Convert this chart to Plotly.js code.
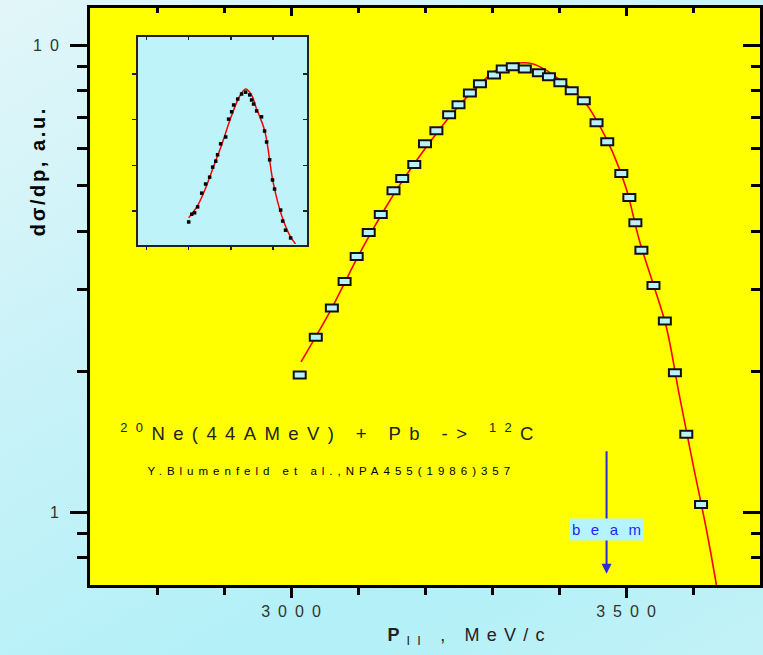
<!DOCTYPE html>
<html>
<head>
<meta charset="utf-8">
<script src="https://cdn.plot.ly/plotly-3.0.1.min.js"></script>
<style>
  html, body { margin: 0; padding: 0; }
  body {
    width: 763px; height: 655px; overflow: hidden;
    background: linear-gradient(150deg, #e2f6f9 0%, #c6f2f8 40%, #b2f0f8 75%, #c2f2f7 100%);
  }
  #chart { width: 763px; height: 655px; }
  g.annotation[data-index="0"] text { letter-spacing: 8.4px; }
  g.annotation[data-index="1"] text { letter-spacing: 5px; }
  g.annotation[data-index="2"] text { letter-spacing: 2.6px; }
  g.annotation[data-index="3"] text { letter-spacing: 7.2px; }
  .subplot.xy .scatterlayer .trace:nth-of-type(2) path.point { d: path("M-6,-3.5H6V3.5H-6Z"); }
</style>
</head>
<body>
<div id="chart"></div>
<script>
// ---- main spectrum: 20Ne(44 AMeV) + Pb -> 12C, dσ/dp (a.u.) vs P|| (MeV/c)
const mainP = [3013, 3037, 3061, 3080, 3098, 3116, 3134, 3153, 3166, 3184, 3200, 3217,
               3236, 3250, 3267, 3282, 3303, 3316, 3331, 3349, 3370, 3385, 3402, 3419,
               3437, 3456, 3472, 3493, 3505, 3514, 3523, 3541, 3558, 3573, 3590, 3612];
const mainY = [1.97, 2.37, 2.74, 3.12, 3.53, 3.97, 4.34, 4.88, 5.18, 5.55, 6.15, 6.56,
               7.09, 7.45, 7.90, 8.26, 8.63, 8.89, 8.98, 8.89, 8.72, 8.55, 8.30, 7.98,
               7.60, 6.82, 6.21, 5.31, 4.72, 4.17, 3.64, 3.06, 2.57, 1.99, 1.47, 1.04];

// ---- fit curve (red)
const fitP = [3015, 3040, 3060, 3080, 3100, 3120, 3140, 3160, 3180, 3200, 3220, 3240,
              3260, 3280, 3300, 3320, 3340, 3360, 3380, 3400, 3420, 3440, 3460, 3480,
              3500, 3520, 3540, 3560, 3580, 3600, 3620, 3635];
const fitY = [2.10, 2.42, 2.72, 3.10, 3.53, 3.98, 4.46, 4.96, 5.47, 6.00, 6.55, 7.12,
              7.67, 8.18, 8.72, 9.00, 9.15, 9.12, 8.85, 8.45, 8.00, 7.50, 6.75, 5.90,
              4.95, 3.82, 3.10, 2.50, 1.77, 1.27, 0.92, 0.70];

// ---- inset (linear scale)
const insetP = [3000, 3018, 3035, 3053, 3077, 3100, 3124, 3142, 3160, 3171, 3189, 3219,
                3236, 3254, 3266, 3290, 3313, 3337, 3361, 3372, 3384, 3402, 3431, 3449,
                3461, 3479, 3496, 3508, 3544, 3556, 3573, 3603];
const insetY = [0.76, 0.93, 0.96, 1.09, 1.39, 1.59, 1.74, 1.96, 2.09, 2.23, 2.47, 2.62,
                3.01, 3.17, 3.32, 3.45, 3.56, 3.60, 3.54, 3.43, 3.34, 3.19, 3.06, 2.75,
                2.51, 2.12, 1.68, 1.48, 1.02, 0.78, 0.58, 0.41];
const insetFitP = [3000, 3050, 3100, 3150, 3200, 3250, 3300, 3337, 3370, 3400, 3450, 3500, 3550, 3600, 3632];
const insetFitY = [0.85, 1.10, 1.50, 2.00, 2.50, 3.05, 3.50, 3.67, 3.55, 3.25, 2.75, 1.62, 0.90, 0.45, 0.28];

// ---- ticks
const xTickVals = [3000, 3500];
const xTickText = ['3\u20020\u20020\u20020', '3\u20025\u20020\u20020'];
const xMinorVals = [2800, 2900, 3100, 3200, 3300, 3400, 3600];
const yTickVals = [1, 10];
const yTickText = ['1', '1\u20020'];
const yMinorVals = [0.8, 0.9, 2, 3, 4, 5, 6, 7, 8, 9];
const insetXTicks = [2750, 3000, 3250, 3500];
const insetYTicks = [1, 2, 3, 4];

const BEAM_P = 3471;

const X_RANGE = [2700, 3700];
const Y_RANGE = [Math.log10(0.7), Math.log10(12)];
const INSET_Y_RANGE = [0.256, 4.807];
const INSET_XDOM = [0.0716, 0.3239];
const INSET_YDOM = [0.5893, 0.9497];

const FONT = 'Liberation Sans, Arial, sans-serif';
const AX = '#000';

const traces = [
  { x: fitP, y: fitY, xaxis: 'x', yaxis: 'y', mode: 'lines', type: 'scatter',
    line: { color: '#ff0000', width: 1.6, shape: 'spline' }, hoverinfo: 'skip' },
  { x: mainP, y: mainY, xaxis: 'x', yaxis: 'y', mode: 'markers', type: 'scatter',
    marker: { symbol: 'square', size: 9, color: '#b8f2fb', line: { color: '#111', width: 2 } } },
  { x: insetFitP, y: insetFitY, xaxis: 'x2', yaxis: 'y2', mode: 'lines', type: 'scatter',
    line: { color: '#ff0000', width: 1.5, shape: 'spline' }, hoverinfo: 'skip' },
  { x: insetP, y: insetY, xaxis: 'x2', yaxis: 'y2', mode: 'markers', type: 'scatter',
    marker: { symbol: 'square', size: 3.5, color: '#000' } },
  // invisible helpers so the mirrored (inside-tick) axes exist
  { x: mainP, y: mainY, xaxis: 'x3', yaxis: 'y3', mode: 'markers', type: 'scatter',
    marker: { opacity: 0 }, hoverinfo: 'skip' },
  { x: insetP, y: insetY, xaxis: 'x4', yaxis: 'y4', mode: 'markers', type: 'scatter',
    marker: { opacity: 0 }, hoverinfo: 'skip' }
];

const layout = {
  width: 763, height: 655,
  margin: { l: 90, r: 3, t: 8, b: 70 },
  paper_bgcolor: 'rgba(0,0,0,0)',
  plot_bgcolor: 'rgba(0,0,0,0)',
  showlegend: false,
  font: { family: FONT, color: '#333' },
  xaxis: {
    domain: [0, 1], anchor: 'y', range: X_RANGE,
    tickmode: 'array', tickvals: xTickVals, ticktext: xTickText,
    ticks: 'outside', ticklen: 10, tickwidth: 3, tickcolor: AX,
    minor: { tickmode: 'array', tickvals: xMinorVals, ticks: 'outside', ticklen: 7, tickwidth: 3, tickcolor: AX },
    showline: true, linewidth: 3, linecolor: AX, showgrid: false, zeroline: false,
    tickfont: { size: 16, color: '#333', family: FONT }
  },
  xaxis3: {
    overlaying: 'x', side: 'top', anchor: 'y', range: X_RANGE,
    tickmode: 'array', tickvals: xTickVals, showticklabels: false,
    ticks: 'inside', ticklen: 8, tickwidth: 3, tickcolor: AX,
    minor: { tickmode: 'array', tickvals: xMinorVals, ticks: 'inside', ticklen: 5, tickwidth: 3, tickcolor: AX },
    showline: true, linewidth: 3, linecolor: AX, showgrid: false, zeroline: false
  },
  yaxis: {
    domain: [0, 1], anchor: 'x', type: 'log', range: Y_RANGE,
    tickmode: 'array', tickvals: yTickVals, ticktext: yTickText,
    ticks: 'outside', ticklen: 17, tickwidth: 3, tickcolor: AX, ticklabelstandoff: 8,
    minor: { tickmode: 'array', tickvals: yMinorVals, ticks: 'outside', ticklen: 10, tickwidth: 3, tickcolor: AX },
    showline: true, linewidth: 3, linecolor: AX, showgrid: false, zeroline: false,
    tickfont: { size: 16, color: '#333', family: FONT }
  },
  yaxis3: {
    overlaying: 'y', side: 'right', anchor: 'x', type: 'log', range: Y_RANGE,
    tickmode: 'array', tickvals: yTickVals, showticklabels: false,
    ticks: 'inside', ticklen: 17, tickwidth: 3, tickcolor: AX,
    minor: { tickmode: 'array', tickvals: yMinorVals, ticks: 'inside', ticklen: 9, tickwidth: 3, tickcolor: AX },
    showline: true, linewidth: 3, linecolor: AX, showgrid: false, zeroline: false
  },
  xaxis2: {
    domain: INSET_XDOM, anchor: 'y2', range: X_RANGE,
    tickmode: 'array', tickvals: insetXTicks, showticklabels: false,
    ticks: 'outside', ticklen: 3, tickwidth: 1.5, tickcolor: '#222',
    showline: true, linewidth: 2, linecolor: '#222', showgrid: false, zeroline: false
  },
  xaxis4: {
    domain: INSET_XDOM, overlaying: 'x2', side: 'top', anchor: 'y2', range: X_RANGE,
    tickmode: 'array', tickvals: insetXTicks, showticklabels: false,
    ticks: 'inside', ticklen: 3, tickwidth: 1.5, tickcolor: '#222',
    showline: true, linewidth: 2, linecolor: '#222', showgrid: false, zeroline: false
  },
  yaxis2: {
    domain: INSET_YDOM, anchor: 'x2', range: INSET_Y_RANGE,
    tickmode: 'array', tickvals: insetYTicks, showticklabels: false,
    ticks: 'outside', ticklen: 4, tickwidth: 1.5, tickcolor: '#222',
    showline: true, linewidth: 2, linecolor: '#222', showgrid: false, zeroline: false
  },
  yaxis4: {
    domain: INSET_YDOM, overlaying: 'y2', side: 'right', anchor: 'x2', range: INSET_Y_RANGE,
    tickmode: 'array', tickvals: insetYTicks, showticklabels: false,
    ticks: 'inside', ticklen: 4, tickwidth: 1.5, tickcolor: '#222',
    showline: true, linewidth: 2, linecolor: '#222', showgrid: false, zeroline: false
  },
  shapes: [
    { type: 'rect', xref: 'paper', yref: 'paper', x0: 0, x1: 1, y0: 0, y1: 1,
      fillcolor: '#ffff00', line: { width: 0 }, layer: 'below' },
    { type: 'rect', xref: 'paper', yref: 'paper', x0: INSET_XDOM[0], x1: INSET_XDOM[1], y0: INSET_YDOM[0], y1: INSET_YDOM[1],
      fillcolor: '#bff3fa', line: { width: 0 }, layer: 'below' }
  ],
  annotations: [
    { text: '<sup>20</sup>Ne(44AMeV) + Pb -> <sup>12</sup>C', xref: 'paper', yref: 'paper',
      x: 0.360, y: 0.2652, xanchor: 'center', yanchor: 'middle', showarrow: false,
      font: { size: 18.5, color: '#222', family: FONT } },
    { text: 'Y.Blumenfeld et al.,NPA455(1986)357', xref: 'paper', yref: 'paper',
      x: 0.360, y: 0.1976, xanchor: 'center', yanchor: 'middle', showarrow: false,
      font: { size: 11.5, color: '#000', family: FONT } },
    { text: '<b>dσ/dp, a.u.</b>', xref: 'paper', yref: 'paper', textangle: -90,
      x: -0.0776, y: 0.716, xanchor: 'center', yanchor: 'middle', showarrow: false,
      font: { size: 20, color: '#000', family: FONT } },
    { text: '<b>P</b><sub>II</sub> , MeV/c', xref: 'paper', yref: 'paper',
      x: 0.566, y: -0.0901, xanchor: 'center', yanchor: 'middle', showarrow: false,
      font: { size: 18, color: '#222', family: FONT } },
    { text: '', x: BEAM_P, y: Math.log10(0.74), xref: 'x', yref: 'y',
      showarrow: true, ax: 0, ay: -124, arrowhead: 2, arrowsize: 1, arrowwidth: 2, arrowcolor: '#2b2bd8' },
    { text: 'b\u2002\u2009e\u2002\u2009a\u2002\u2009m', x: BEAM_P, y: Math.log10(0.92), xref: 'x', yref: 'y',
      xanchor: 'center', yanchor: 'middle', showarrow: false, bgcolor: '#b6f4fd', borderpad: 2,
      font: { size: 15, color: '#1f1fff', family: FONT } }
  ]
};

Plotly.newPlot('chart', traces, layout, { displayModeBar: false, staticPlot: true });
</script>
</body>
</html>
